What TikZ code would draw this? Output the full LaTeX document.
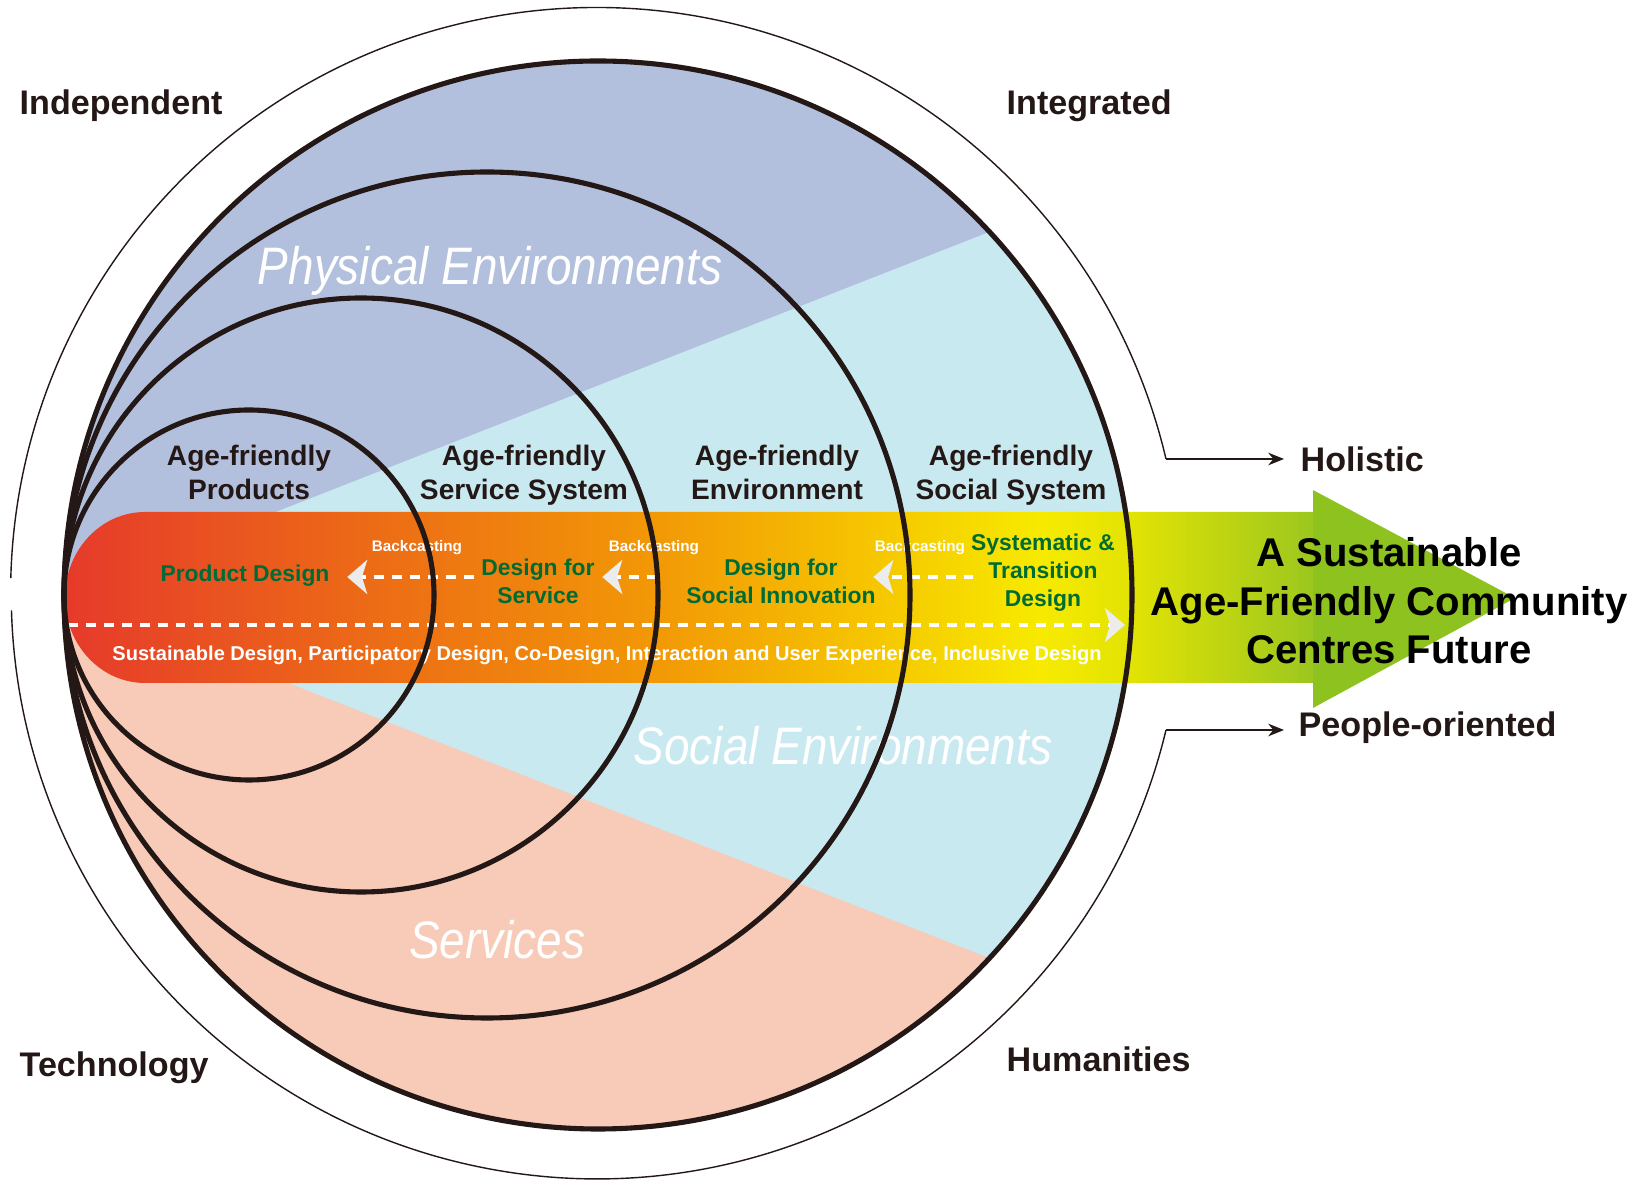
\documentclass[tikz,border=0pt]{standalone}
\usepackage{fontspec}
\setmainfont{Liberation Sans}
\newfontfamily\envfamily[FakeStretch=0.87]{Liberation Sans}
\usetikzlibrary{arrows.meta, calc}

\definecolor{physblue}{RGB}{179,192,221}
\definecolor{socialcyan}{RGB}{201,233,241}
\definecolor{servsalmon}{RGB}{247,203,184}
\definecolor{designgreen}{RGB}{0,107,52}
\definecolor{inkblack}{RGB}{35,24,21}
\definecolor{headgreen}{RGB}{141,194,31}
\definecolor{tipgray}{RGB}{236,236,236}
\definecolor{bandA}{RGB}{230,58,43}
\definecolor{bandB}{RGB}{236,105,23}
\definecolor{bandC}{RGB}{242,152,6}
\definecolor{bandD}{RGB}{246,200,0}
\definecolor{bandE}{RGB}{247,234,0}
\definecolor{bandF}{RGB}{226,227,4}
\definecolor{bandG}{RGB}{156,199,31}

\pgfdeclarehorizontalshading{bandshade}{100bp}{color(0bp)=(bandA); color(25bp)=(bandA);
  color(36.7bp)=(bandB); color(48.6bp)=(bandC); color(57.8bp)=(bandD);
  color(64.1bp)=(bandE); color(67.7bp)=(bandF); color(75bp)=(bandG); color(100bp)=(bandG)}

\tikzset{
  ring/.style={draw=inkblack, line width=1.45pt},
  outerring/.style={draw=inkblack, line width=0.4pt},
  cornerlabel/.style={font=\bfseries\fontsize{9.7}{11.6}\selectfont, text=inkblack, anchor=base west, inner sep=0pt},
  agelabel/.style={font=\bfseries\fontsize{8}{9.5}\selectfont, text=inkblack, align=center, anchor=north},
  designlabel/.style={font=\bfseries\fontsize{6.5}{8}\selectfont, text=designgreen, align=center, inner sep=2pt},
  backlabel/.style={font=\bfseries\fontsize{4.35}{5}\selectfont, text=white},
  methodlabel/.style={font=\bfseries\fontsize{5.7}{6.8}\selectfont, text=white},
  envlabel/.style={font=\envfamily\itshape\fontsize{15}{18}\selectfont, text=white},
  futurelabel/.style={font=\bfseries\fontsize{11.4}{13.8}\selectfont, text=black, align=center, inner sep=0pt},
  backarrow/.style={draw=white, line width=1.1pt, dash pattern=on 2.8pt off 2.3pt,
    -{Stealth[length=5.7pt, width=9.7pt, inset=1.5pt, color=tipgray]}},
  sidearrow/.style={outerring, -{Stealth[length=4.5pt, width=3.6pt]}}
}

\begin{document}
\begin{tikzpicture}[x=0.01cm, y=-0.01cm]
  \useasboundingbox (0,0) rectangle (1636,1180);

  % three environments inside the largest ring
  \begin{scope}
    \clip (598,595) circle (534);
    \fill[socialcyan] (0,0) rectangle (1200,1200);
    \fill[physblue] (64,595) -- (1300,110) -- (1300,0) -- (0,0) -- (0,595) -- cycle;
    \fill[servsalmon] (64,595) -- (1300,1080) -- (1300,1200) -- (0,1200) -- (0,595) -- cycle;
  \end{scope}

  % band and arrow
  \shade[shading=bandshade] (1313,512) -- (145,512)
    arc[start angle=270, end angle=90, x radius=80, y radius=85.5] -- (1313,683) -- cycle;
  \fill[headgreen] (1313,490) -- (1515,598) -- (1313,708) -- cycle;

  % outer ring, open at both sides
  \draw[outerring] (1166,459) arc[start angle=-13.24, end angle=-178.53, radius=585.5];
  \draw[outerring] (1166,730) arc[start angle=13.5, end angle=178.33, radius=585.5];
  \coordinate (holiStart) at (1166,459);
  \coordinate (peopStart) at (1166,730);

  \node[cornerlabel] (independent) at (19,115) {Independent};
  \node[cornerlabel] (integrated) at (1006,115) {Integrated};
  \node[cornerlabel] (technology) at (19,1077) {Technology};
  \node[cornerlabel] (humanities) at (1006,1072) {Humanities};
  \node[cornerlabel] (holistic) at (1300,472) {Holistic};
  \node[cornerlabel] (people) at (1298,737) {People-oriented};
  \draw[sidearrow, shorten >=0.16cm] (holiStart) -- (holiStart -| holistic.west);
  \draw[sidearrow, shorten >=0.14cm] (peopStart) -- (peopStart -| people.west);

  \node[envlabel] (physical) at (490,271) {Physical Environments};
  \node[envlabel] (social) at (843,746) {Social Environments};
  \node[envlabel] (services) at (497,940) {Services};

  \node[agelabel] (products) at (249,433) {Age-friendly\\Products};
  \node[agelabel] (servsys) at (524,433) {Age-friendly\\Service System};
  \node[agelabel] (environ) at (777,433) {Age-friendly\\Environment};
  \node[agelabel] (socsys) at (1011,433) {Age-friendly\\Social System};

  \node[designlabel] (prodDesign) at (245,576) {Product Design};
  \node[designlabel] (svcDesign) at (538,581) {Design for\\Service};
  \node[designlabel] (socDesign) at (781,581) {Design for\\Social Innovation};
  \node[designlabel] (transDesign) at (1043,573) {Systematic \&\\Transition\\Design};

  \node[backlabel] (back1) at (417,548) {Backcasting};
  \node[backlabel] (back2) at (654,548) {Backcasting};
  \node[backlabel] (back3) at (920,548) {Backcasting};

  \node[methodlabel] (methods) at (607,655) {Sustainable Design, Participatory Design, Co-Design, Interaction and User Experience, Inclusive Design};
  \node[futurelabel] (future) at (1389,601) {A Sustainable\\Age-Friendly Community\\Centres Future};

  % backcasting and forward arrows
  \coordinate (bcLevel) at (0,577);
  \coordinate (fwdStart) at (68,625);
  \draw[backarrow, shorten >=0.1cm] (svcDesign.west |- bcLevel) -- (prodDesign.east |- bcLevel);
  \draw[backarrow, shorten <=0.22cm] (socDesign.west |- bcLevel) -- (svcDesign.east |- bcLevel);
  \draw[backarrow, shorten <=-0.1cm, shorten >=-0.1cm] (transDesign.west |- bcLevel) -- (socDesign.east |- bcLevel);
  \draw[backarrow, shorten >=0.25cm] (fwdStart) -- (fwdStart -| future.west);

  % rings on top
  \draw[ring] (598,595) circle (534);
  \draw[ring] (487,595) circle (423);
  \draw[ring] (361,595) circle (297);
  \draw[ring] (249,595) circle (185);
\end{tikzpicture}
\end{document}
